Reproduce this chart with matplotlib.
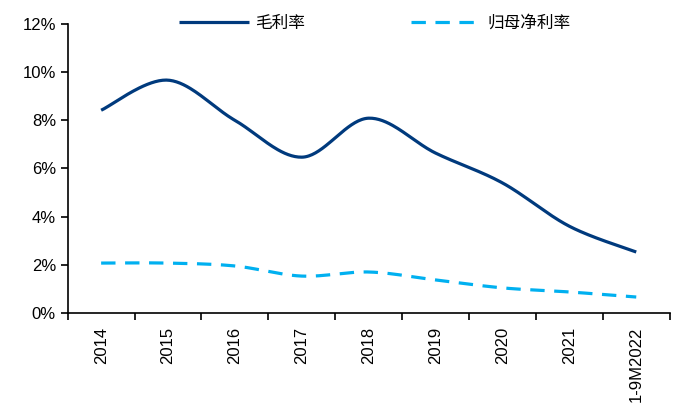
import numpy as np
import matplotlib
matplotlib.use("Agg")
import matplotlib.pyplot as plt
from matplotlib.ticker import FixedLocator, FuncFormatter

plt.rcParams['font.family'] = ['Liberation Sans', 'Noto Sans CJK SC', 'DejaVu Sans']

categories = ['2014', '2015', '2016', '2017', '2018', '2019', '2020', '2021', '1-9M2022']
gross_margin = [8.42, 9.67, 8.00, 6.47, 8.09, 6.64, 5.40, 3.60, 2.53]
net_margin = [2.07, 2.07, 1.95, 1.53, 1.70, 1.37, 1.04, 0.87, 0.66]
series_names = ['毛利率', '归母净利率']
y_ticks = [0, 2, 4, 6, 8, 10, 12]


def smooth(xs, ys, n=40):
    xs = np.asarray(xs, float)
    ys = np.asarray(ys, float)
    px = np.concatenate([[xs[0]], xs, [xs[-1]]])
    py = np.concatenate([[ys[0]], ys, [ys[-1]]])
    outx, outy = [], []
    t = np.linspace(0, 1, n)
    for i in range(1, len(px) - 2):
        p0x, p1x, p2x, p3x = px[i - 1], px[i], px[i + 1], px[i + 2]
        p0y, p1y, p2y, p3y = py[i - 1], py[i], py[i + 1], py[i + 2]
        c1x = p1x + (p2x - p0x) / 6
        c1y = p1y + (p2y - p0y) / 6
        c2x = p2x - (p3x - p1x) / 6
        c2y = p2y - (p3y - p1y) / 6
        bx = (1 - t) ** 3 * p1x + 3 * (1 - t) ** 2 * t * c1x + 3 * (1 - t) * t ** 2 * c2x + t ** 3 * p2x
        by = (1 - t) ** 3 * p1y + 3 * (1 - t) ** 2 * t * c1y + 3 * (1 - t) * t ** 2 * c2y + t ** 3 * p2y
        outx.extend(bx)
        outy.extend(by)
    return np.array(outx), np.array(outy)


fig = plt.figure(figsize=(6.81, 4.15), dpi=100)
ax = fig.add_axes([0.0994, 0.246, 0.884, 0.696])

x = np.arange(len(categories))
sx, sy = smooth(x, gross_margin)
ax.plot(sx, sy, color='#003A7D', lw=2.3, label=series_names[0], solid_capstyle='butt')
sx2, sy2 = smooth(x, net_margin)
ax.plot(sx2, sy2, color='#00B0F0', lw=2.3, linestyle=(0, (4.5, 3)), label=series_names[1])

ax.set_xlim(-0.5, len(categories) - 0.5)
ax.set_ylim(0, 12)
ax.set_yticks(y_ticks)
ax.yaxis.set_major_formatter(FuncFormatter(lambda v, p: f'{v:.0f}%'))

ax.set_xticks(x)
ax.set_xticklabels(categories, rotation=90)
ax.xaxis.set_minor_locator(FixedLocator(np.arange(-0.5, len(categories), 1.0)))
ax.tick_params(axis='x', which='major', length=0, pad=10, labelsize=12)
ax.tick_params(axis='x', which='minor', length=5, width=1.2, direction='out')
ax.tick_params(axis='y', length=5, width=1.2, direction='out', labelsize=12)

for s in ['top', 'right']:
    ax.spines[s].set_visible(False)
for s in ['left', 'bottom']:
    ax.spines[s].set_linewidth(1.2)

leg = ax.legend(loc='upper center', bbox_to_anchor=(0.51, 1.085), ncol=2, frameon=False,
                handlelength=4.2, columnspacing=6.4, handletextpad=0.35,
                prop={'family': ['Noto Sans CJK SC', 'DejaVu Sans'], 'size': 12})

fig.savefig('out.png', dpi=100)
